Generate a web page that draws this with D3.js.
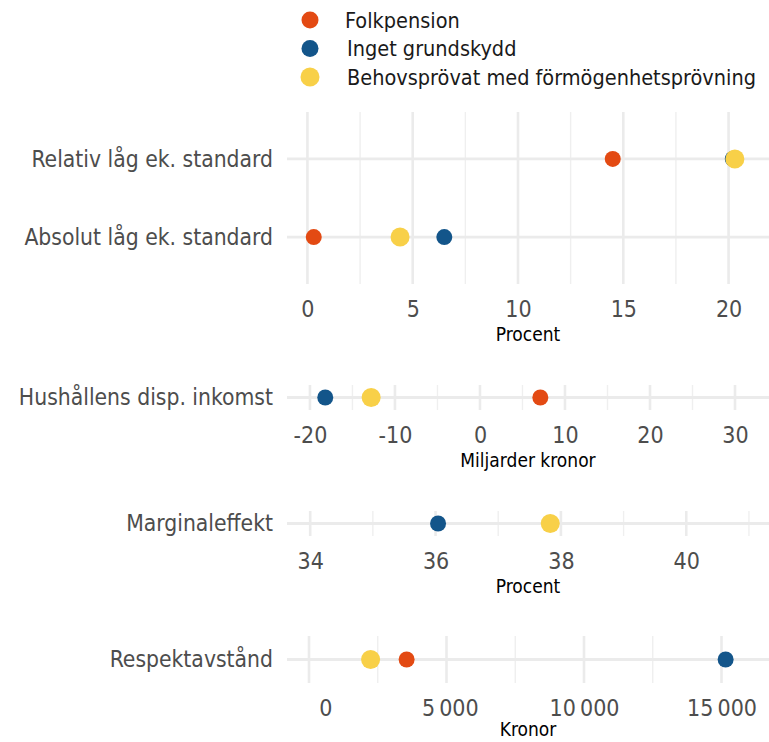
<!DOCTYPE html>
<html>
<head>
<meta charset="utf-8">
<script src="https://cdn.jsdelivr.net/npm/d3@7"></script>
<style>
  body { margin: 0; background: #fff; }
  svg text { font-family: "Liberation Sans Narrow", "DejaVu Sans Condensed", "Roboto", sans-serif; }
</style>
</head>
<body>
<div id="chart"></div>
<script>
// serier
var series = ["Folkpension", "Inget grundskydd", "Behovsprövat med förmögenhetsprövning"];
var seriesColors = ["#e34a13", "#13558a", "#f8d048"];

// kategorier per panel
var catsLow = ["Relativ låg ek. standard", "Absolut låg ek. standard"];
var catsInc = ["Hushållens disp. inkomst"];
var catsMarg = ["Marginaleffekt"];
var catsResp = ["Respektavstånd"];

// värden (Folkpension, Inget grundskydd, Behovsprövat)
var folkLow = [14.5, 0.3], ingetLow = [20.2, 6.5], behovLow = [20.3, 4.4];
var folkInc = [7.1], ingetInc = [-18.2], behovInc = [-12.8];
var folkMarg = [null], ingetMarg = [36.04], behovMarg = [37.83];
var folkResp = [3550], ingetResp = [15150], behovResp = [2240];

// axlar
var ticksLow = [0, 5, 10, 15, 20], minorLow = [2.5, 7.5, 12.5, 17.5];
var ticksInc = [-20, -10, 0, 10, 20, 30], minorInc = [-15, -5, 5, 15, 25];
var ticksMarg = [34, 36, 38, 40], minorMarg = [35, 37, 39, 41];
var ticksResp = [0, 5000, 10000, 15000], minorResp = [2500, 7500, 12500];
var titles = ["Procent", "Miljarder kronor", "Procent", "Kronor"];

var width = 769, height = 742;
var plotLeft = 287, plotRight = 769;

var svg = d3.select("#chart").append("svg")
  .attr("width", width)
  .attr("height", height);

var sv = d3.formatLocale({decimal: ",", thousands: "\u2009", grouping: [3], currency: ["", " kr"], minus: "-"});
var fmtInt = sv.format("d");
var fmtKr = function(d) { var s = sv.format(",")(d); while (s.length < 6) s = " " + s; return s; };

var panels = [
  {cats: catsLow, vals: [folkLow, ingetLow, behovLow], ticks: ticksLow, minor: minorLow,
   domain: [-0.97, 21.92], top: 112, bottom: 284, pad: 0.6, title: titles[0], fmt: fmtInt},
  {cats: catsInc, vals: [folkInc, ingetInc, behovInc], ticks: ticksInc, minor: minorInc,
   domain: [-22.7, 34.0], top: 385, bottom: 410, pad: 0.5, title: titles[1], fmt: fmtInt},
  {cats: catsMarg, vals: [folkMarg, ingetMarg, behovMarg], ticks: ticksMarg, minor: minorMarg,
   domain: [33.63, 41.32], top: 511, bottom: 536, pad: 0.5, title: titles[2], fmt: fmtInt},
  {cats: catsResp, vals: [folkResp, ingetResp, behovResp], ticks: ticksResp, minor: minorResp,
   domain: [-800, 16727], top: 636, bottom: 683, pad: 0.5, title: titles[3], fmt: fmtKr}
];

panels.forEach(function(p) {
  var x = d3.scaleLinear().domain(p.domain).range([plotLeft, plotRight]);
  var y = d3.scalePoint().domain(p.cats).range([p.top, p.bottom]).padding(p.pad);
  var g = svg.append("g");

  // gridlinjer
  g.selectAll(".minor").data(p.minor).enter().append("line")
    .attr("x1", function(d) { return x(d); }).attr("x2", function(d) { return x(d); })
    .attr("y1", p.top).attr("y2", p.bottom)
    .attr("stroke", "#efefef").attr("stroke-width", 1.4);
  g.selectAll(".major").data(p.ticks).enter().append("line")
    .attr("x1", function(d) { return x(d); }).attr("x2", function(d) { return x(d); })
    .attr("y1", p.top).attr("y2", p.bottom)
    .attr("stroke", "#ebebeb").attr("stroke-width", 2.6);
  g.selectAll(".hline").data(p.cats).enter().append("line")
    .attr("x1", plotLeft).attr("x2", plotRight)
    .attr("y1", function(d) { return y(d); }).attr("y2", function(d) { return y(d); })
    .attr("stroke", "#ebebeb").attr("stroke-width", 2.8);

  // kategorietiketter
  g.selectAll(".cat").data(p.cats).enter().append("text")
    .attr("x", 273).attr("y", function(d) { return y(d); })
    .attr("dy", "0.35em").attr("text-anchor", "end")
    .attr("font-size", 22.7).attr("fill", "#4d4d4d")
    .text(function(d) { return d; });

  // x-axel
  var axis = d3.axisBottom(x).tickValues(p.ticks).tickSize(0).tickPadding(0).tickFormat(p.fmt);
  var ax = g.append("g").attr("transform", "translate(0," + (p.bottom + 25) + ")").call(axis);
  ax.select(".domain").remove();
  ax.selectAll("text")
    .attr("dy", "0.35em").attr("y", 0)
    .attr("font-size", 23).attr("fill", "#4d4d4d")
    .attr("font-family", null)
    .style("white-space", "pre");

  g.append("text")
    .attr("x", (plotLeft + plotRight) / 2).attr("y", Math.min(p.bottom + 50, height - 13))
    .attr("dy", "0.35em").attr("text-anchor", "middle")
    .attr("font-size", 19).attr("fill", "#000")
    .text(p.title);

  // punkter
  series.forEach(function(s, i) {
    var pts = p.cats.map(function(c, j) { return {cat: c, v: p.vals[i][j]}; })
      .filter(function(d) { return d.v != null; });
    g.selectAll(".s" + i).data(pts).enter().append("circle")
      .attr("cx", function(d) { return x(d.v); })
      .attr("cy", function(d) { return y(d.cat); })
      .attr("r", i == 2 ? 9.5 : 8)
      .attr("fill", seriesColors[i]);
  });
});

// legend
var leg = svg.append("g");
var legY = d3.scalePoint().domain(series).range([20, 77]);
series.forEach(function(s, i) {
  leg.append("circle").attr("cx", 310).attr("cy", legY(s))
    .attr("r", i == 2 ? 9.5 : 8.5).attr("fill", seriesColors[i]);
  leg.append("text").attr("x", i == 0 ? 345 : 347).attr("y", legY(s))
    .attr("dy", "0.35em").attr("font-size", 21.5).attr("fill", "#1a1a1a")
    .text(s);
});
</script>
</body>
</html>
